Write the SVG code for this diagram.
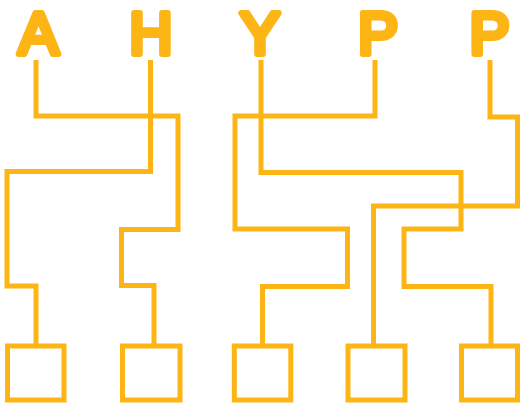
<svg xmlns="http://www.w3.org/2000/svg" width="520" height="405" viewBox="0 0 520 405">
<style>
.lt{font-family:"Liberation Sans",Arial,sans-serif;font-weight:normal;font-size:60px;fill:#FDB515;stroke:#FDB515;stroke-width:6;stroke-linejoin:round;stroke-linecap:round;text-anchor:middle}
.w{fill:none;stroke:#FDB515;stroke-width:5;stroke-linejoin:miter;stroke-linecap:butt}
.box{fill:#fff;stroke:#FDB515;stroke-width:5}
</style>
<rect width="520" height="405" fill="#fff"/>
<g id="connectors">
<path class="w" d="M36,60 V116 H178 V229.5 H121.5 V285.5 H154 V344"/>
<path class="w" d="M150.5,60 V171.5 H7 V286 H36 V344"/>
<path class="w" d="M261,60 V172.5 H461 V229 H404 V286.5 H491 V344"/>
<path class="w" d="M375,60 V116 H235 V229 H347.5 V286.5 H262.5 V344"/>
<path class="w" d="M490,60 V117 H517.5 V206 H373.5 V344"/>
</g>
<g id="letter-A"><text class="lt" x="38.5" y="54">A</text></g>
<g id="letter-H"><text class="lt" x="150.8" y="54">H</text></g>
<g id="letter-Y"><text class="lt" x="260" y="54">Y</text></g>
<g id="letter-P1"><text class="lt" x="378" y="54">P</text></g>
<g id="letter-P2"><text class="lt" x="489.5" y="54">P</text></g>
<g id="box-1"><rect class="box" x="7.5" y="346" width="56.5" height="54"/></g>
<g id="box-2"><rect class="box" x="122.5" y="346" width="57.5" height="54"/></g>
<g id="box-3"><rect class="box" x="234.3" y="346" width="56.5" height="54"/></g>
<g id="box-4"><rect class="box" x="348" y="346" width="57" height="54"/></g>
<g id="box-5"><rect class="box" x="461.5" y="346" width="56" height="54"/></g>
</svg>
